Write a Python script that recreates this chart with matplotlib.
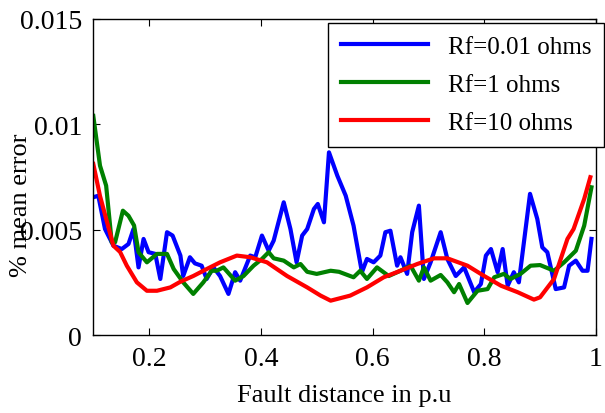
import matplotlib
matplotlib.use('Agg')
import matplotlib.pyplot as plt

# values
x_blue = [0.100, 0.109, 0.121, 0.136, 0.151, 0.163, 0.172, 0.181, 0.190, 0.199,
          0.211, 0.220, 0.232, 0.242, 0.256, 0.261, 0.273, 0.282, 0.294, 0.303,
          0.315, 0.327, 0.342, 0.354, 0.363, 0.381, 0.390, 0.402, 0.414, 0.423,
          0.441, 0.453, 0.464, 0.474, 0.483, 0.495, 0.502, 0.513, 0.522, 0.537,
          0.552, 0.566, 0.581, 0.590, 0.602, 0.614, 0.623, 0.632, 0.644, 0.650,
          0.662, 0.671, 0.683, 0.692, 0.704, 0.722, 0.734, 0.749, 0.764, 0.782,
          0.794, 0.803, 0.812, 0.824, 0.833, 0.842, 0.853, 0.862, 0.882, 0.895,
          0.904, 0.913, 0.928, 0.943, 0.952, 0.964, 0.976, 0.985, 0.992]
y_blue = [0.00654, 0.00661, 0.00503, 0.00424, 0.00408, 0.00432, 0.00503, 0.00321, 0.00456, 0.00393,
          0.00385, 0.00266, 0.00488, 0.00472, 0.00377, 0.00280, 0.00369, 0.00340, 0.00329, 0.00266,
          0.00321, 0.00280, 0.00195, 0.00298, 0.00258, 0.00377, 0.00369, 0.00472, 0.00400, 0.00448,
          0.00630, 0.00503, 0.00345, 0.00472, 0.00503, 0.00598, 0.00622, 0.00535, 0.00867, 0.00756,
          0.00661, 0.00519, 0.00298, 0.00361, 0.00345, 0.00377, 0.00488, 0.00495, 0.00329, 0.00369,
          0.00290, 0.00488, 0.00614, 0.00266, 0.00345, 0.00488, 0.00361, 0.00280, 0.00321, 0.00203,
          0.00242, 0.00377, 0.00408, 0.00298, 0.00408, 0.00234, 0.00298, 0.00250, 0.00670, 0.00551,
          0.00416, 0.00393, 0.00218, 0.00226, 0.00329, 0.00353, 0.00305, 0.00305, 0.00456]

x_green = [0.100, 0.112, 0.123, 0.133, 0.139, 0.153, 0.163, 0.173, 0.181, 0.196,
           0.214, 0.232, 0.244, 0.261, 0.279, 0.297, 0.312, 0.321, 0.333, 0.354,
           0.369, 0.387, 0.402, 0.414, 0.423, 0.441, 0.459, 0.471, 0.483, 0.500,
           0.525, 0.540, 0.566, 0.578, 0.590, 0.608, 0.629, 0.650, 0.668, 0.683,
           0.692, 0.704, 0.722, 0.734, 0.746, 0.755, 0.770, 0.788, 0.806, 0.818,
           0.835, 0.847, 0.865, 0.883, 0.900, 0.925, 0.943, 0.964, 0.979, 0.992]
y_green = [0.01040, 0.00804, 0.00709, 0.00440, 0.00440, 0.00590, 0.00566, 0.00520, 0.00393, 0.00345,
           0.00385, 0.00385, 0.00313, 0.00250, 0.00195, 0.00250, 0.00305, 0.00305, 0.00321, 0.00258,
           0.00280, 0.00329, 0.00361, 0.00393, 0.00364, 0.00353, 0.00321, 0.00337, 0.00300, 0.00290,
           0.00305, 0.00300, 0.00274, 0.00305, 0.00266, 0.00321, 0.00280, 0.00305, 0.00329, 0.00258,
           0.00321, 0.00258, 0.00285, 0.00250, 0.00203, 0.00242, 0.00152, 0.00210, 0.00218, 0.00274,
           0.00290, 0.00266, 0.00290, 0.00329, 0.00332, 0.00305, 0.00345, 0.00400, 0.00519, 0.00701]

x_red = [0.100, 0.112, 0.136, 0.148, 0.160, 0.178, 0.196, 0.214, 0.238, 0.256,
         0.279, 0.303, 0.327, 0.357, 0.381, 0.411, 0.447, 0.483, 0.507, 0.525,
         0.560, 0.590, 0.620, 0.650, 0.680, 0.710, 0.734, 0.770, 0.800, 0.830,
         0.860, 0.889, 0.900, 0.925, 0.949, 0.960, 0.979, 0.990]
y_red = [0.00812, 0.00660, 0.00424, 0.00394, 0.00329, 0.00250, 0.00210, 0.00210, 0.00226, 0.00253,
         0.00280, 0.00313, 0.00345, 0.00377, 0.00369, 0.00345, 0.00280, 0.00226, 0.00187, 0.00163,
         0.00187, 0.00226, 0.00274, 0.00305, 0.00337, 0.00364, 0.00364, 0.00329, 0.00280, 0.00234,
         0.00203, 0.00168, 0.00179, 0.00266, 0.00456, 0.00503, 0.00646, 0.00749]

labels = ['Rf=0.01 ohms', 'Rf=1 ohms', 'Rf=10 ohms']
x_ticks = [0.2, 0.4, 0.6, 0.8, 1.0]
x_ticklabels = ['0.2', '0.4', '0.6', '0.8', '1']
y_ticks = [0, 0.005, 0.01, 0.015]
y_ticklabels = ['0', '0.005', '0.01', '0.015']

plt.rcParams['font.family'] = ['Liberation Serif', 'DejaVu Serif']

fig = plt.figure(figsize=(6.05, 4.14), dpi=100)
ax = fig.add_axes([0.1542, 0.1884, 0.8308, 0.7633])

ax.plot(x_blue, y_blue, color='#0000ff', lw=3, label=labels[0])
ax.plot(x_green, y_green, color='#008000', lw=3, label=labels[1])
ax.plot(x_red, y_red, color='#ff0000', lw=3, label=labels[2])

ax.set_xlim(0.1, 1.0)
ax.set_ylim(0, 0.015)
ax.set_xticks(x_ticks)
ax.set_xticklabels(x_ticklabels)
ax.set_yticks(y_ticks)
ax.set_yticklabels(y_ticklabels)
ax.tick_params(direction='in', length=5, width=0.8, top=True, right=True,
               labelsize=20, pad=8)
for s in ax.spines.values():
    s.set_linewidth(1)

ax.set_xlabel('Fault distance in p.u', fontsize=19, labelpad=9)
ax.set_ylabel('% mean error', fontsize=19)
ax.yaxis.set_label_coords(-0.122, 0.415)

leg = ax.legend(loc='upper right', bbox_to_anchor=(604 / 605, 1 - 24 / 414),
                bbox_transform=fig.transFigure, borderaxespad=0, fontsize=18,
                handlelength=3.5, fancybox=False, framealpha=1,
                edgecolor='black', labelspacing=0.62, borderpad=0.5)
leg.get_frame().set_linewidth(1)

fig.savefig('out.png', dpi=100)
